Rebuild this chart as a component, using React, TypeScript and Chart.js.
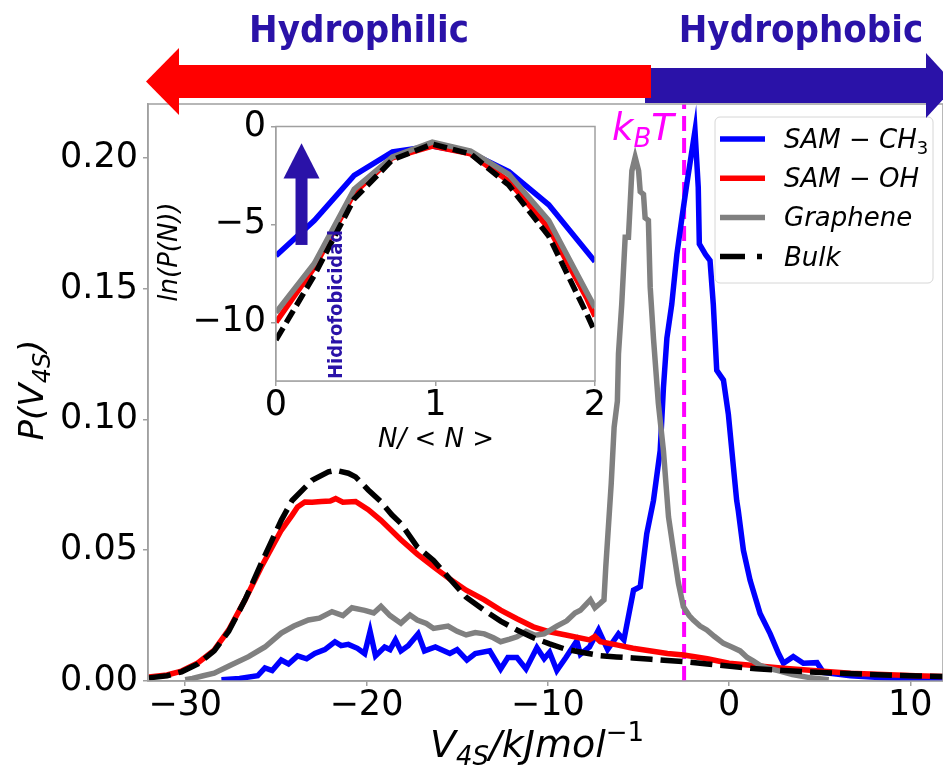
import React, { useEffect, useRef } from "react";
import { Chart, registerables } from "chart.js";
Chart.register(...registerables);

const FONT = "'DejaVu Sans', 'Liberation Sans', sans-serif";
const COND = "'DejaVu Sans Condensed', 'Liberation Sans Narrow', 'DejaVu Sans', sans-serif";
const DARK_BLUE = "#2a12a8";
const FRAME = "#a0a0a0";

// ---------- main plot axes ----------
const X_MIN = -32.05;
const X_MAX = 11.8;
const Y_MIN = 0;
const Y_MAX = 0.2205;
const X_STEP = 10;
const Y_STEP = 0.05;
const KBT = 2.48; // kJ/mol, drawn at V = -kBT

// ---------- main series: [V4S (kJ/mol), P(V4S)] ----------
const SAM_CH3: [number, number][] = [
  [-28.0, 0.0005], [-27.0, 0.001], [-26.0, 0.002], [-25.6, 0.005], [-25.2, 0.004],
  [-24.7, 0.008], [-24.3, 0.0065], [-23.8, 0.0096], [-23.3, 0.0085], [-22.85, 0.0105],
  [-22.3, 0.012], [-21.74, 0.015], [-21.4, 0.0135], [-21.0, 0.014], [-20.5, 0.0125],
  [-20.1, 0.0105], [-19.8, 0.019], [-19.5, 0.0096], [-19.0, 0.013], [-18.7, 0.012],
  [-18.4, 0.0157], [-18.1, 0.0115], [-17.7, 0.0135], [-17.15, 0.018], [-16.8, 0.0115],
  [-16.2, 0.013], [-15.4, 0.0105], [-15.0, 0.012], [-14.46, 0.008], [-14.0, 0.0105],
  [-13.2, 0.0115], [-12.6, 0.0046], [-12.2, 0.009], [-11.7, 0.009], [-11.2, 0.0046],
  [-10.6, 0.0127], [-10.2, 0.0085], [-9.9, 0.011], [-9.5, 0.004], [-9.0, 0.009],
  [-8.4, 0.0153], [-8.2, 0.0102], [-7.7, 0.013], [-7.2, 0.0195], [-6.7, 0.012],
  [-6.1, 0.018], [-5.8, 0.0157], [-5.27, 0.0347], [-4.9, 0.036], [-4.54, 0.0563],
  [-4.17, 0.069], [-3.8, 0.088], [-3.62, 0.112], [-3.43, 0.131], [-3.16, 0.144],
  [-2.88, 0.163], [-2.6, 0.177], [-2.33, 0.19], [-1.88, 0.2103], [-1.7, 0.1887],
  [-1.64, 0.167], [-1.3, 0.163], [-1.05, 0.1607], [-0.87, 0.144], [-0.68, 0.1187],
  [-0.31, 0.115], [-0.04, 0.102], [0.24, 0.0818], [0.42, 0.069], [0.51, 0.065],
  [0.79, 0.05], [1.16, 0.0385], [1.71, 0.0258], [2.27, 0.018], [2.73, 0.0105],
  [3.0, 0.0068], [3.54, 0.0093], [4.1, 0.0068], [4.85, 0.007], [5.2, 0.0033],
  [6.7, 0.002], [8.5, 0.0012], [10.5, 0.0008], [11.8, 0.0006],
];

const SAM_OH: [number, number][] = [
  [-32.0, 0.0015], [-31.0, 0.0023], [-30.2, 0.0038], [-29.3, 0.0069], [-28.4, 0.0118],
  [-27.6, 0.0195], [-26.7, 0.031], [-25.8, 0.0436], [-24.7, 0.0576], [-24.1, 0.0634],
  [-23.8, 0.0665], [-23.4, 0.0684], [-23.0, 0.0683], [-22.5, 0.0686], [-22.0, 0.0688],
  [-21.7, 0.0697], [-21.3, 0.0683], [-20.6, 0.0686], [-19.9, 0.0655], [-19.2, 0.0614],
  [-18.1, 0.054], [-17.2, 0.0485], [-16.3, 0.0436], [-15.4, 0.039], [-14.5, 0.0347],
  [-13.5, 0.031], [-12.6, 0.0271], [-11.7, 0.0238], [-10.8, 0.0207], [-9.9, 0.0188],
  [-9.0, 0.0176], [-7.7, 0.0157], [-7.4, 0.017], [-7.1, 0.015], [-6.2, 0.0138],
  [-5.3, 0.0125], [-4.3, 0.0115], [-3.4, 0.0105], [-2.5, 0.0099], [-1.2, 0.0085],
  [0.0, 0.0068], [1.5, 0.0058], [3.0, 0.0049], [5.0, 0.0038], [6.7, 0.003],
  [8.5, 0.0025], [10.3, 0.002], [11.8, 0.0017],
];

const GRAPHENE: [number, number][] = [
  [-30.0, 0.0005], [-29.6, 0.001], [-29.0, 0.002], [-28.4, 0.003], [-27.5, 0.006],
  [-26.5, 0.0093], [-25.6, 0.013], [-24.7, 0.0183], [-24.0, 0.021], [-23.2, 0.0233],
  [-22.6, 0.024], [-21.9, 0.0265], [-21.3, 0.025], [-20.8, 0.028], [-20.1, 0.027],
  [-19.6, 0.026], [-19.2, 0.0285], [-18.7, 0.025], [-18.1, 0.0221], [-17.6, 0.0252],
  [-17.2, 0.0233], [-16.7, 0.022], [-16.3, 0.0201], [-15.5, 0.021], [-15.0, 0.019],
  [-14.5, 0.0176], [-14.0, 0.0185], [-13.5, 0.018], [-13.0, 0.0165], [-12.6, 0.015],
  [-12.1, 0.016], [-11.7, 0.0169], [-11.2, 0.019], [-10.7, 0.0175], [-10.2, 0.018],
  [-9.5, 0.021], [-8.95, 0.023], [-8.5, 0.026], [-8.2, 0.027], [-7.65, 0.031],
  [-7.4, 0.028], [-7.1, 0.0297], [-6.9, 0.031], [-6.8, 0.0436], [-6.5, 0.0754],
  [-6.34, 0.097], [-6.16, 0.107], [-6.1, 0.125], [-5.92, 0.144], [-5.73, 0.1696],
  [-5.55, 0.1696], [-5.36, 0.195], [-5.18, 0.2001], [-4.99, 0.195], [-4.9, 0.187],
  [-4.72, 0.186], [-4.63, 0.177], [-4.45, 0.176], [-4.35, 0.1505], [-4.17, 0.131],
  [-3.9, 0.106], [-3.62, 0.088], [-3.34, 0.0627], [-3.07, 0.05], [-2.79, 0.0373],
  [-2.52, 0.0284], [-2.2, 0.025], [-1.97, 0.0233], [-1.6, 0.021], [-1.23, 0.0195],
  [-0.8, 0.017], [-0.31, 0.0144], [0.15, 0.013], [0.61, 0.0115], [1.0, 0.009],
  [1.35, 0.0076], [1.7, 0.006], [2.08, 0.005], [2.8, 0.0038], [3.5, 0.0025],
  [4.5, 0.0012], [5.5, 0.0005],
];

const BULK: [number, number][] = [
  [-32.0, 0.0012], [-31.0, 0.002], [-30.2, 0.0035], [-29.3, 0.0065], [-28.4, 0.0115],
  [-27.6, 0.019], [-26.7, 0.031], [-25.8, 0.045], [-24.7, 0.0614], [-24.1, 0.069],
  [-23.0, 0.0767], [-22.1, 0.0799], [-21.7, 0.0805], [-21.0, 0.0794], [-20.6, 0.078],
  [-19.9, 0.073], [-19.2, 0.0685], [-18.6, 0.0635], [-18.1, 0.0602], [-17.2, 0.0513],
  [-16.3, 0.0461], [-15.4, 0.039], [-14.5, 0.032], [-13.5, 0.027], [-12.6, 0.0229],
  [-11.7, 0.0195], [-10.8, 0.0165], [-9.9, 0.0142], [-9.0, 0.0121], [-8.0, 0.0108],
  [-7.1, 0.0097], [-6.2, 0.0092], [-5.3, 0.0088], [-4.3, 0.0083], [-3.4, 0.0078],
  [-2.5, 0.0074], [-1.2, 0.0065], [0.2, 0.0055], [1.5, 0.0047], [3.0, 0.004],
  [4.5, 0.0034], [6.0, 0.003], [7.5, 0.0026], [9.0, 0.0022], [10.5, 0.0019],
  [11.8, 0.0017],
];

// ---------- inset: ln(P(N)) vs N/<N> ----------
const INSET_X_MIN = 0;
const INSET_X_MAX = 2;
const INSET_Y_MIN = -13;
const INSET_Y_MAX = 0;
const N_RATIO = [0, 0.24, 0.49, 0.73, 0.98, 1.22, 1.46, 1.71, 1.95, 2.0];
const LN_CH3 = [-6.6, -4.8, -2.5, -1.3, -1.0, -1.35, -2.3, -4.0, -6.4, -6.9];
const LN_OH = [-10.0, -7.2, -3.4, -1.6, -1.0, -1.4, -2.8, -5.2, -8.8, -9.7];
const LN_GRAPHENE = [-9.5, -7.0, -3.2, -1.55, -0.8, -1.25, -2.45, -4.8, -8.5, -9.25];
const LN_BULK = [-10.9, -7.6, -3.7, -1.7, -0.9, -1.4, -3.0, -5.6, -9.6, -10.5];

const SERIES = [
  { label: "SAM − CH3", name: "SAM − CH", sub: "3", color: "#0000ff", main: SAM_CH3, inset: LN_CH3, order: 3, dash: [] as number[] },
  { label: "SAM − OH", name: "SAM − OH", sub: "", color: "#ff0000", main: SAM_OH, inset: LN_OH, order: 2, dash: [] as number[] },
  { label: "Graphene", name: "Graphene", sub: "", color: "#808080", main: GRAPHENE, inset: LN_GRAPHENE, order: 1, dash: [] as number[] },
  { label: "Bulk", name: "Bulk", sub: "", color: "#000000", main: BULK, inset: LN_BULK, order: 0, dash: [22, 8] },
];

type Part = { t: string; size: number; italic?: boolean; bold?: boolean; dy?: number; family?: string };
const fontOf = (p: Part) => `${p.italic ? "italic " : ""}${p.bold ? "bold " : ""}${p.size}px ${p.family || FONT}`;

function drawParts(ctx: CanvasRenderingContext2D, parts: Part[], x: number, y: number, align: "left" | "center") {
  let w = 0;
  for (const p of parts) {
    ctx.font = fontOf(p);
    w += ctx.measureText(p.t).width;
  }
  let cx = align === "center" ? x - w / 2 : x;
  ctx.textAlign = "left";
  ctx.textBaseline = "alphabetic";
  for (const p of parts) {
    ctx.font = fontOf(p);
    ctx.fillText(p.t, cx, y + (p.dy || 0));
    cx += ctx.measureText(p.t).width;
  }
}

const minus = (v: number, digits = 0) => {
  const s = Math.abs(v).toFixed(digits);
  return v < 0 ? "\u2212" + s : s;
};

const mainPlugin = {
  id: "mainDecor",
  beforeDraw(chart: any) {
    const ctx = chart.ctx as CanvasRenderingContext2D;
    ctx.save();
    ctx.fillStyle = "#ffffff";
    ctx.fillRect(0, 0, chart.width, chart.height);
    ctx.restore();
  },
  afterDraw(chart: any) {
    const ctx = chart.ctx as CanvasRenderingContext2D;
    const a = chart.chartArea;
    ctx.save();
    // frame
    ctx.strokeStyle = FRAME;
    ctx.lineWidth = 1.5;
    ctx.strokeRect(a.left, a.top, a.right - a.left, a.bottom - a.top);

    // legend
    const lx = 715, ly = 117, lw = 218, lh = 166;
    ctx.beginPath();
    (ctx as any).roundRect(lx, ly, lw, lh, 5);
    ctx.fillStyle = "rgba(255,255,255,0.85)";
    ctx.fill();
    ctx.strokeStyle = "#d6d6d6";
    ctx.lineWidth = 1;
    ctx.stroke();
    SERIES.forEach((s, i) => {
      const ry = 139 + i * 39.2;
      ctx.beginPath();
      ctx.setLineDash(s.dash.length ? [25, 12, 5, 12] : []);
      ctx.strokeStyle = s.color;
      ctx.lineWidth = 5.5;
      ctx.moveTo(720, ry);
      ctx.lineTo(765, ry);
      ctx.stroke();
      ctx.setLineDash([]);
      ctx.fillStyle = "#000";
      const parts: Part[] = [{ t: s.name, size: 26, italic: true }];
      if (s.sub) parts.push({ t: s.sub, size: 18, dy: 6 });
      drawParts(ctx, parts, 784, ry + 9, "left");
    });

    // kBT label
    ctx.fillStyle = "#ff00ff";
    drawParts(ctx, [
      { t: "k", size: 37, italic: true },
      { t: "B", size: 26, italic: true, dy: 7 },
      { t: "T", size: 37, italic: true },
    ], 612, 140, "left");

    // axis titles
    ctx.fillStyle = "#000";
    drawParts(ctx, [
      { t: "V", size: 38, italic: true },
      { t: "4S", size: 26, italic: true, dy: 8 },
      { t: "/kJmol", size: 38, italic: true },
      { t: "\u22121", size: 26, dy: -16 },
    ], 537, 757, "center");
    ctx.save();
    ctx.translate(43, 390);
    ctx.rotate(-Math.PI / 2);
    drawParts(ctx, [
      { t: "P(V", size: 34, italic: true },
      { t: "4S", size: 24, italic: true, dy: 7 },
      { t: ")", size: 34, italic: true },
    ], 0, 0, "center");
    ctx.restore();

    // top arrows
    ctx.fillStyle = DARK_BLUE;
    ctx.fillRect(645, 68, 926 - 645, 35);
    ctx.beginPath();
    ctx.moveTo(926, 53);
    ctx.lineTo(956, 85.5);
    ctx.lineTo(926, 118);
    ctx.closePath();
    ctx.fill();
    ctx.fillStyle = "#ff0000";
    ctx.fillRect(178, 65, 651 - 178, 33);
    ctx.beginPath();
    ctx.moveTo(179, 48);
    ctx.lineTo(146, 81.5);
    ctx.lineTo(179, 115);
    ctx.closePath();
    ctx.fill();

    ctx.fillStyle = DARK_BLUE;
    drawParts(ctx, [{ t: "Hydrophilic", size: 38, bold: true, family: COND }], 359, 42, "center");
    drawParts(ctx, [{ t: "Hydrophobic", size: 38, bold: true, family: COND }], 801, 42, "center");
    ctx.restore();
  },
};

const insetPlugin = {
  id: "insetDecor",
  beforeDatasetsDraw(chart: any) {
    const ctx = chart.ctx as CanvasRenderingContext2D;
    const a = chart.chartArea;
    ctx.save();
    ctx.fillStyle = "#ffffff";
    ctx.fillRect(a.left, a.top, a.right - a.left, a.bottom - a.top);
    ctx.restore();
  },
  afterDraw(chart: any) {
    const ctx = chart.ctx as CanvasRenderingContext2D;
    const a = chart.chartArea;
    const xs = chart.scales.x;
    const ys = chart.scales.y;
    ctx.save();
    ctx.strokeStyle = FRAME;
    ctx.lineWidth = 1.5;
    ctx.strokeRect(a.left, a.top, a.right - a.left, a.bottom - a.top);

    // hydrophobicity arrow
    const ax = xs.getPixelForValue(0.16);
    const yBot = ys.getPixelForValue(-6.05);
    const yBase = ys.getPixelForValue(-2.65);
    const yTip = ys.getPixelForValue(-0.85);
    ctx.fillStyle = DARK_BLUE;
    ctx.fillRect(ax - 6, yBase - 1, 12, yBot - yBase + 1);
    ctx.beginPath();
    ctx.moveTo(ax - 18, yBase);
    ctx.lineTo(ax, yTip);
    ctx.lineTo(ax + 18, yBase);
    ctx.closePath();
    ctx.fill();

    // rotated label
    ctx.save();
    ctx.translate(xs.getPixelForValue(0.415), ys.getPixelForValue(-12.9));
    ctx.rotate(-Math.PI / 2);
    drawParts(ctx, [{ t: "Hidrofobicidad", size: 20, bold: true, family: COND }], 0, 0, "left");
    ctx.restore();

    // axis titles
    ctx.fillStyle = "#000";
    ctx.save();
    ctx.translate(20, 148);
    ctx.rotate(-Math.PI / 2);
    ctx.font = `italic 26px ${FONT}`;
    ctx.textAlign = "center";
    ctx.textBaseline = "middle";
    ctx.fillText("ln(P(N))", 0, 0);
    ctx.restore();
    ctx.font = `italic 26px ${FONT}`;
    ctx.textAlign = "center";
    ctx.textBaseline = "middle";
    ctx.fillText("N/ < N >", 286, 336);
    ctx.restore();
  },
};

const tickFont = { family: FONT, size: 35, lineHeight: 1 };
const gridOpts = { display: true, drawOnChartArea: false, drawTicks: true, tickLength: 5, color: FRAME, lineWidth: 1.5 };
const borderOpts = { display: true, color: FRAME, width: 1.5 };

export default function App() {
  const mainRef = useRef<HTMLCanvasElement>(null);
  const insetRef = useRef<HTMLCanvasElement>(null);

  useEffect(() => {
    const mainDatasets: any[] = SERIES.map((s) => ({
      label: s.label,
      data: s.main.map(([x, y]) => ({ x, y })),
      borderColor: s.color,
      backgroundColor: s.color,
      borderWidth: 5.5,
      borderDash: s.dash,
      pointRadius: 0,
      tension: 0,
      fill: false,
      order: s.order,
    }));
    mainDatasets.push({
      label: "kBT",
      data: [{ x: -KBT, y: Y_MIN }, { x: -KBT, y: Y_MAX }],
      borderColor: "#ff00ff",
      borderWidth: 4,
      borderDash: [15, 7],
      pointRadius: 0,
      fill: false,
      order: 10,
    });

    const main = new Chart(mainRef.current as HTMLCanvasElement, {
      type: "line",
      data: { datasets: mainDatasets },
      options: {
        responsive: false,
        animation: false,
        devicePixelRatio: 1,
        events: [],
        layout: { padding: { top: 104, left: 0, right: 0, bottom: 0 } },
        plugins: { legend: { display: false }, tooltip: { enabled: false } },
        scales: {
          x: {
            type: "linear",
            min: X_MIN,
            max: X_MAX,
            ticks: {
              stepSize: X_STEP,
              includeBounds: false,
              autoSkip: false,
              maxRotation: 0,
              padding: 2,
              color: "#000",
              font: tickFont,
              callback: (v: any) => minus(Number(v)),
            },
            grid: gridOpts,
            border: borderOpts,
            afterFit: (s: any) => { s.height = 90; },
          },
          y: {
            type: "linear",
            min: Y_MIN,
            max: Y_MAX,
            ticks: {
              stepSize: Y_STEP,
              includeBounds: false,
              autoSkip: false,
              padding: 5,
              color: "#000",
              font: tickFont,
              callback: (v: any) => Number(v).toFixed(2),
            },
            grid: gridOpts,
            border: borderOpts,
            afterFit: (s: any) => { s.width = 148; },
          },
        },
      } as any,
      plugins: [mainPlugin],
    });

    const insetDatasets = SERIES.map((s) => ({
      label: s.label,
      data: N_RATIO.map((x, i) => ({ x, y: s.inset[i] })),
      borderColor: s.color,
      backgroundColor: s.color,
      borderWidth: 5.5,
      borderDash: s.dash.length ? [14, 6] : [],
      pointRadius: 0,
      tension: 0,
      fill: false,
      order: s.order,
    }));

    const inset = new Chart(insetRef.current as HTMLCanvasElement, {
      type: "line",
      data: { datasets: insetDatasets },
      options: {
        responsive: false,
        animation: false,
        devicePixelRatio: 1,
        events: [],
        layout: { padding: { top: 18, left: 0, right: 15, bottom: 0 } },
        plugins: { legend: { display: false }, tooltip: { enabled: false } },
        scales: {
          x: {
            type: "linear",
            min: INSET_X_MIN,
            max: INSET_X_MAX,
            ticks: {
              stepSize: 1,
              includeBounds: false,
              autoSkip: false,
              maxRotation: 0,
              padding: 2,
              color: "#000",
              font: tickFont,
              callback: (v: any) => minus(Number(v)),
            },
            grid: gridOpts,
            border: borderOpts,
            afterFit: (s: any) => { s.height = 73; },
          },
          y: {
            type: "linear",
            min: INSET_Y_MIN,
            max: INSET_Y_MAX,
            ticks: {
              stepSize: 5,
              includeBounds: false,
              autoSkip: false,
              padding: 5,
              color: "#000",
              font: tickFont,
              callback: (v: any) => minus(Number(v)),
            },
            grid: gridOpts,
            border: borderOpts,
            afterFit: (s: any) => { s.width = 126; },
          },
        },
      } as any,
      plugins: [insetPlugin],
    });

    return () => {
      main.destroy();
      inset.destroy();
    };
  }, []);

  return (
    <div style={{ position: "fixed", left: 0, top: 0, width: 943, height: 771, background: "#fff", overflow: "hidden" }}>
      <canvas ref={mainRef} width={943} height={771} style={{ position: "absolute", left: 0, top: 0, width: 943, height: 771 }} />
      <canvas ref={insetRef} width={460} height={350} style={{ position: "absolute", left: 150, top: 104, width: 460, height: 350 }} />
    </div>
  );
}
